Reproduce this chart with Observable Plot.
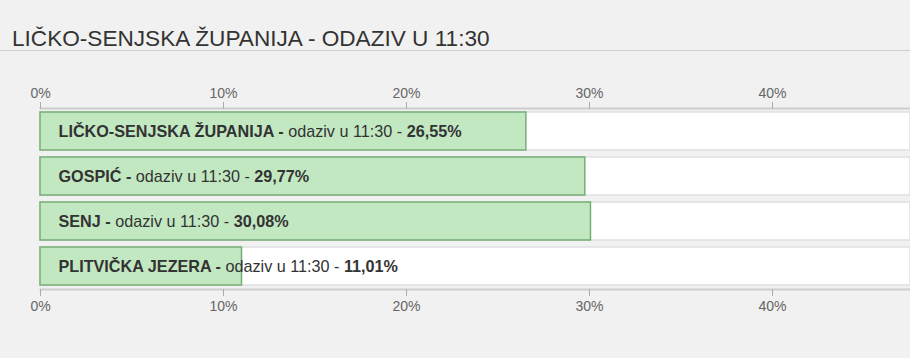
<!DOCTYPE html>
<html>
<head>
<meta charset="utf-8">
<script src="https://cdn.jsdelivr.net/npm/d3@7"></script>
<script src="https://cdn.jsdelivr.net/npm/@observablehq/plot@0.6"></script>
<style>
  html, body { margin: 0; padding: 0; background: #f1f1f1; }
  body { width: 910px; height: 358px; overflow: hidden; font-family: "Liberation Sans", Arial, sans-serif; }
  #title { height: 51px; box-sizing: border-box; border-bottom: 1px solid #cfcfcf; padding: 28px 0 0 12px;
           font-size: 22.6px; line-height: 22px; color: #333; white-space: nowrap; }
  #chart svg { display: block; }
</style>
</head>
<body>
<div id="title">LIČKO-SENJSKA ŽUPANIJA - ODAZIV U 11:30</div>
<div id="chart"></div>
<script>
const names = ["LIČKO-SENJSKA ŽUPANIJA", "GOSPIĆ", "SENJ", "PLITVIČKA JEZERA"];
const turnout = [26.55, 29.77, 30.08, 11.01];
const labelMiddle = "odaziv u 11:30 - ";
const tickValues = [0, 10, 20, 30, 40];
const xMax = 47.54;

const data = names.map((n, i) => ({ name: n, value: turnout[i] }));
const fmt = v => v.toFixed(2).replace(".", ",") + "%";

const plot = Plot.plot({
  width: 910,
  height: 307,
  marginLeft: 40,
  marginRight: 0,
  marginTop: 57,
  marginBottom: 69,
  style: { background: "transparent", fontFamily: "Liberation Sans, Arial, sans-serif", overflow: "visible" },
  x: { domain: [0, xMax], axis: null, label: null },
  y: { domain: names, axis: null, label: null, paddingInner: 0.156, paddingOuter: 0.06 },
  marks: [
    Plot.barX(data, { y: "name", x1: 0, x2: xMax, fill: "white", stroke: "#e0e0e0", strokeWidth: 1.5 }),
    Plot.barX(data, { y: "name", x1: 0, x2: "value", fill: "#c2e8c2", stroke: "#76ad76", strokeWidth: 1.5 }),
    Plot.frame({ anchor: "top", stroke: "#cdcdcd", strokeWidth: 2 }),
    Plot.frame({ anchor: "bottom", stroke: "#cdcdcd", strokeWidth: 2 }),
    Plot.axisX({ anchor: "top", ticks: tickValues, tickFormat: d => d + "%", tickSize: 7, tickPadding: 4,
                 fontSize: 14, color: "#666", stroke: "#aaa", label: null }),
    Plot.axisX({ anchor: "bottom", ticks: tickValues, tickFormat: d => d + "%", tickSize: 7, tickPadding: 5,
                 fontSize: 14, color: "#666", stroke: "#aaa", label: null }),
    Plot.text(data, { y: "name", x: 0, dx: 18, text: d => d.name + " - " + labelMiddle + fmt(d.value),
                      textAnchor: "start", fontSize: 16.2, fill: "#333" })
  ]
});
document.getElementById("chart").appendChild(plot);

// rich text: bold name and value, regular middle part
d3.select(plot).selectAll('g[aria-label="text"] text').each(function(_, i) {
  const t = d3.select(this);
  t.text(null);
  t.append("tspan").attr("font-weight", "bold").text(names[i] + " - ");
  t.append("tspan").text(labelMiddle);
  t.append("tspan").attr("font-weight", "bold").text(fmt(turnout[i]));
});
</script>
</body>
</html>
